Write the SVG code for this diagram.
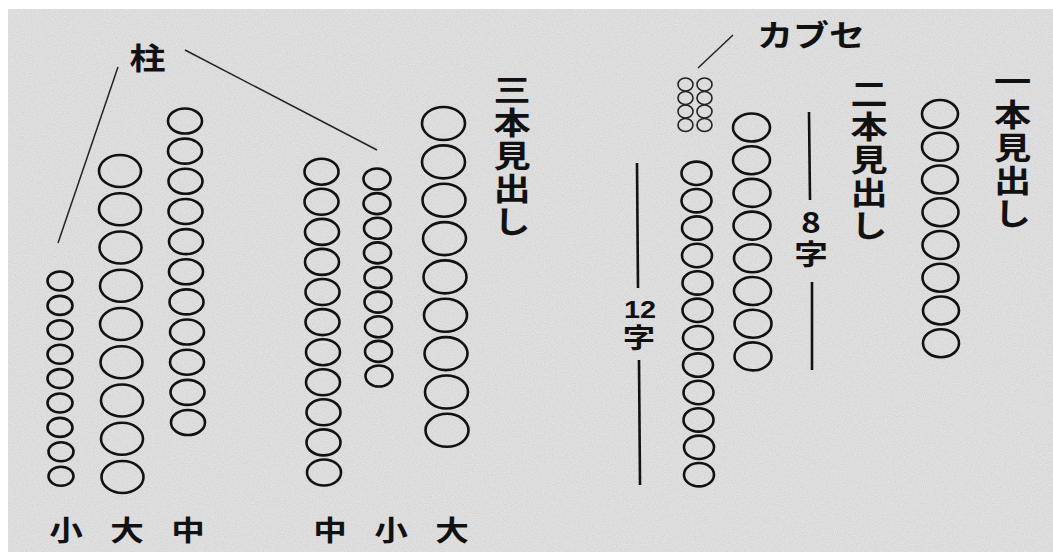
<svg xmlns="http://www.w3.org/2000/svg" width="1053" height="552" viewBox="0 0 1053 552">
<style>
.c{fill:none;stroke:#111;stroke-width:2.6}
.k{fill:none;stroke:#222;stroke-width:1.6}
.ln{stroke:#222;stroke-width:1.5;fill:none}
.vl{stroke:#111;stroke-width:2.6;fill:none}
.t{font-family:"Noto Sans CJK JP","Noto Sans",sans-serif;font-weight:700;fill:#111;text-anchor:middle;dominant-baseline:central}
.tv{font-family:"Noto Sans CJK JP","Noto Sans",sans-serif;font-weight:700;fill:#111;text-anchor:start;writing-mode:vertical-rl}
.num{font-family:"Liberation Sans",Arial,sans-serif;font-weight:700;fill:#111;text-anchor:middle;dominant-baseline:central}
</style>
<defs>
<filter id="paper" x="0" y="0" width="100%" height="100%">
<feTurbulence type="fractalNoise" baseFrequency="0.9" numOctaves="2" seed="3" result="n"/>
<feColorMatrix in="n" type="matrix" values="0 0 0 0 0.55  0 0 0 0 0.55  0 0 0 0 0.55  0 0 0 0.5 0" result="g"/>
<feComposite in="g" in2="SourceGraphic" operator="in" result="g2"/>
<feBlend in="SourceGraphic" in2="g2" mode="multiply"/>
</filter>
</defs>
<rect width="1053" height="552" fill="#ffffff"/>
<rect x="8" y="9" width="1045" height="543" fill="#e8e8e8" filter="url(#paper)"/>

<g id="connectors">
<line class="ln" x1="118" y1="67" x2="58" y2="243"/>
<line class="ln" x1="185" y1="50" x2="377" y2="150"/>
<line class="ln" x1="733" y1="35" x2="698" y2="68"/>
<line class="vl" x1="637" y1="163" x2="638" y2="288"/>
<line class="vl" x1="639" y1="360" x2="640" y2="485"/>
<line class="vl" x1="809" y1="112" x2="810" y2="200"/>
<line class="vl" x1="812" y1="282" x2="812" y2="370"/>
</g>

<g id="label-hashira"><text class="t" font-size="30" transform="translate(147.5,56.5) scale(1.2,1)">柱</text></g>
<g id="label-kabuse"><text class="t" font-size="30" transform="translate(811,33.5) scale(1.2,1)">カブセ</text></g>

<g id="col-sho-1">
<ellipse class="c" cx="60" cy="281" rx="12.5" ry="9.5"/>
<ellipse class="c" cx="60" cy="305.4" rx="12.5" ry="9.5"/>
<ellipse class="c" cx="60" cy="329.8" rx="12.5" ry="9.5"/>
<ellipse class="c" cx="60" cy="354.2" rx="12.5" ry="9.5"/>
<ellipse class="c" cx="60" cy="378.6" rx="12.5" ry="9.5"/>
<ellipse class="c" cx="60" cy="403" rx="12.5" ry="9.5"/>
<ellipse class="c" cx="60" cy="427.4" rx="12.5" ry="9.5"/>
<ellipse class="c" cx="61" cy="451.8" rx="12.5" ry="9.5"/>
<ellipse class="c" cx="61" cy="476.2" rx="12.5" ry="9.5"/>
<text class="t" font-size="28" transform="translate(66,529) scale(1.2,1)">小</text>
</g>

<g id="col-dai-1">
<ellipse class="c" cx="120" cy="171" rx="21" ry="16"/>
<ellipse class="c" cx="120" cy="209.25" rx="21" ry="16"/>
<ellipse class="c" cx="120.5" cy="247.5" rx="21" ry="16"/>
<ellipse class="c" cx="121" cy="285.75" rx="21" ry="16"/>
<ellipse class="c" cx="121" cy="324" rx="21" ry="16"/>
<ellipse class="c" cx="121.5" cy="362.25" rx="21" ry="16"/>
<ellipse class="c" cx="122" cy="400.5" rx="21" ry="16"/>
<ellipse class="c" cx="122" cy="438.75" rx="21" ry="16"/>
<ellipse class="c" cx="122.5" cy="477" rx="21" ry="16"/>
<text class="t" font-size="28" transform="translate(127,529) scale(1.2,1)">大</text>
</g>

<g id="col-chu-1">
<ellipse class="c" cx="185" cy="121" rx="17" ry="12.5"/>
<ellipse class="c" cx="185" cy="151.15" rx="17" ry="12.5"/>
<ellipse class="c" cx="185.5" cy="181.3" rx="17" ry="12.5"/>
<ellipse class="c" cx="185.5" cy="211.45" rx="17" ry="12.5"/>
<ellipse class="c" cx="186" cy="241.6" rx="17" ry="12.5"/>
<ellipse class="c" cx="186" cy="271.75" rx="17" ry="12.5"/>
<ellipse class="c" cx="186.5" cy="301.9" rx="17" ry="12.5"/>
<ellipse class="c" cx="187" cy="332.05" rx="17" ry="12.5"/>
<ellipse class="c" cx="187" cy="362.2" rx="17" ry="12.5"/>
<ellipse class="c" cx="187.5" cy="392.35" rx="17" ry="12.5"/>
<ellipse class="c" cx="188" cy="422.5" rx="17" ry="12.5"/>
<text class="t" font-size="28" transform="translate(188,529) scale(1.2,1)">中</text>
</g>

<g id="col-chu-3">
<ellipse class="c" cx="321.5" cy="171.7" rx="17" ry="13"/>
<ellipse class="c" cx="321.5" cy="201.8" rx="17" ry="13"/>
<ellipse class="c" cx="322" cy="231.9" rx="17" ry="13"/>
<ellipse class="c" cx="322" cy="261.9" rx="17" ry="13"/>
<ellipse class="c" cx="322.5" cy="292" rx="17" ry="13"/>
<ellipse class="c" cx="322.5" cy="322.1" rx="17" ry="13"/>
<ellipse class="c" cx="323" cy="352.2" rx="17" ry="13"/>
<ellipse class="c" cx="323" cy="382.3" rx="17" ry="13"/>
<ellipse class="c" cx="323.5" cy="412.3" rx="17" ry="13"/>
<ellipse class="c" cx="323.5" cy="442.4" rx="17" ry="13"/>
<ellipse class="c" cx="324" cy="472.5" rx="17" ry="13"/>
<text class="t" font-size="28" transform="translate(330,529) scale(1.2,1)">中</text>
</g>

<g id="col-sho-3">
<ellipse class="c" cx="377" cy="179" rx="13.5" ry="10.5"/>
<ellipse class="c" cx="377" cy="203.6" rx="13.5" ry="10.5"/>
<ellipse class="c" cx="377.5" cy="228.3" rx="13.5" ry="10.5"/>
<ellipse class="c" cx="377.5" cy="252.9" rx="13.5" ry="10.5"/>
<ellipse class="c" cx="378" cy="277.5" rx="13.5" ry="10.5"/>
<ellipse class="c" cx="378" cy="302.1" rx="13.5" ry="10.5"/>
<ellipse class="c" cx="378.5" cy="326.8" rx="13.5" ry="10.5"/>
<ellipse class="c" cx="378.5" cy="351.4" rx="13.5" ry="10.5"/>
<ellipse class="c" cx="379" cy="376" rx="13.5" ry="10.5"/>
<text class="t" font-size="28" transform="translate(391,529) scale(1.2,1)">小</text>
</g>

<g id="col-dai-3">
<ellipse class="c" cx="443.5" cy="123.5" rx="21.5" ry="16.5"/>
<ellipse class="c" cx="443.5" cy="161.9" rx="21.5" ry="16.5"/>
<ellipse class="c" cx="444" cy="200.2" rx="21.5" ry="16.5"/>
<ellipse class="c" cx="444.5" cy="238.6" rx="21.5" ry="16.5"/>
<ellipse class="c" cx="445" cy="276.9" rx="21.5" ry="16.5"/>
<ellipse class="c" cx="445.5" cy="315.3" rx="21.5" ry="16.5"/>
<ellipse class="c" cx="446" cy="353.6" rx="21.5" ry="16.5"/>
<ellipse class="c" cx="446.5" cy="392" rx="21.5" ry="16.5"/>
<ellipse class="c" cx="447" cy="430.3" rx="21.5" ry="16.5"/>
<text class="t" font-size="28" transform="translate(452,529) scale(1.2,1)">大</text>
</g>

<g id="heading-sanbon">
<text class="tv" font-size="31" letter-spacing="2" transform="translate(512,73.5) scale(1.2,1)" x="0" y="0">三本見出し</text>
</g>

<g id="kabuse">
<ellipse class="k" cx="685.5" cy="84.5" rx="7.5" ry="6.5"/>
<ellipse class="k" cx="704.5" cy="84.5" rx="7.5" ry="6.5"/>
<ellipse class="k" cx="685.5" cy="98" rx="7.5" ry="6.5"/>
<ellipse class="k" cx="704.5" cy="98" rx="7.5" ry="6.5"/>
<ellipse class="k" cx="685.5" cy="111.5" rx="7.5" ry="6.5"/>
<ellipse class="k" cx="704.5" cy="111.5" rx="7.5" ry="6.5"/>
<ellipse class="k" cx="685.5" cy="125" rx="7.5" ry="6.5"/>
<ellipse class="k" cx="704.5" cy="125" rx="7.5" ry="6.5"/>
</g>

<g id="col-12ji">
<ellipse class="c" cx="696.5" cy="173.3" rx="15" ry="11.7"/>
<ellipse class="c" cx="696.5" cy="200.7" rx="15" ry="11.7"/>
<ellipse class="c" cx="697" cy="228.1" rx="15" ry="11.7"/>
<ellipse class="c" cx="697" cy="255.5" rx="15" ry="11.7"/>
<ellipse class="c" cx="697.5" cy="282.9" rx="15" ry="11.7"/>
<ellipse class="c" cx="697.5" cy="310.3" rx="15" ry="11.7"/>
<ellipse class="c" cx="698" cy="337.7" rx="15" ry="11.7"/>
<ellipse class="c" cx="698" cy="365.1" rx="15" ry="11.7"/>
<ellipse class="c" cx="698.5" cy="392.5" rx="15" ry="11.7"/>
<ellipse class="c" cx="698.5" cy="419.9" rx="15" ry="11.7"/>
<ellipse class="c" cx="699" cy="447.3" rx="15" ry="11.7"/>
<ellipse class="c" cx="699" cy="474.7" rx="15" ry="11.7"/>
</g>
<g id="label-12ji">
<text class="num" font-size="24" transform="translate(640,310) scale(1.2,1)">12</text>
<text class="tv" font-size="27" transform="translate(639,324.5) scale(1.2,1)" x="0" y="0">字</text>
</g>

<g id="col-8ji">
<ellipse class="c" cx="751.5" cy="127.5" rx="18.5" ry="14"/>
<ellipse class="c" cx="751.5" cy="160.2" rx="18.5" ry="14"/>
<ellipse class="c" cx="752" cy="192.9" rx="18.5" ry="14"/>
<ellipse class="c" cx="752" cy="225.6" rx="18.5" ry="14"/>
<ellipse class="c" cx="752.5" cy="258.3" rx="18.5" ry="14"/>
<ellipse class="c" cx="752.5" cy="291" rx="18.5" ry="14"/>
<ellipse class="c" cx="753" cy="323.7" rx="18.5" ry="14"/>
<ellipse class="c" cx="753" cy="356.4" rx="18.5" ry="14"/>
</g>
<g id="label-8ji">
<text class="tv" font-size="28" letter-spacing="4" style="text-orientation:upright" transform="translate(811,208) scale(1.2,1)" x="0" y="0">8字</text>
</g>

<g id="heading-nihon">
<text class="tv" font-size="31" letter-spacing="2" transform="translate(869,78) scale(1.2,1)" x="0" y="0">二本見出し</text>
</g>

<g id="col-ippon">
<ellipse class="c" cx="940" cy="114" rx="18" ry="14"/>
<ellipse class="c" cx="940" cy="146.8" rx="18" ry="14"/>
<ellipse class="c" cx="940" cy="179.5" rx="18" ry="14"/>
<ellipse class="c" cx="940.5" cy="212.2" rx="18" ry="14"/>
<ellipse class="c" cx="940.5" cy="245" rx="18" ry="14"/>
<ellipse class="c" cx="940.5" cy="277.7" rx="18" ry="14"/>
<ellipse class="c" cx="941" cy="310.5" rx="18" ry="14"/>
<ellipse class="c" cx="941" cy="343.2" rx="18" ry="14"/>
</g>

<g id="heading-ippon">
<text class="tv" font-size="31" letter-spacing="2" transform="translate(1012.5,65.5) scale(1.2,1)" x="0" y="0">一本見出し</text>
</g>
</svg>
